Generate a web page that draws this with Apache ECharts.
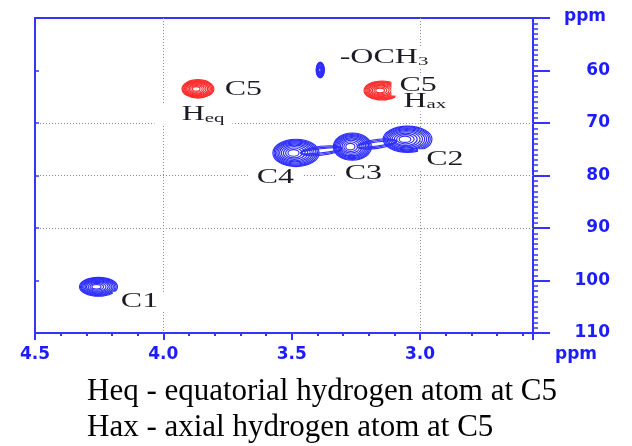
<!DOCTYPE html>
<html><head><meta charset="utf-8">
<script src="https://cdn.jsdelivr.net/npm/echarts@6/dist/echarts.min.js"></script>
<style>html,body{margin:0;padding:0;background:#fff}#c{width:632px;height:446px}</style>
</head><body><div id="c"></div>
<script>
// ---------------- data ----------------
const xTickLabels = ['4.5', '4.0', '3.5', '3.0'];
const yTickLabels = ['60', '70', '80', '90', '100', '110'];
const axisUnit = 'ppm';

// blue cross peaks (1H shift, 13C shift, half widths)
const bluePeakNames  = ['C1', 'C2', 'C3', 'C4', 'OCH3'];
const bluePeakH      = [4.263, 3.062, 3.274, 3.496, 3.391];
const bluePeakC      = [101.2, 73.1, 74.5, 75.7, 59.9];
const bluePeakWidthH = [0.074, 0.095, 0.074, 0.09, 0.016];
const bluePeakWidthC = [1.8, 2.5, 2.6, 2.6, 1.5];

// red cross peaks (C5 protons)
const redPeakNames  = ['C5 Heq', 'C5 Hax'];
const redPeakH      = [3.874, 3.158];
const redPeakC      = [63.5, 63.8];
const redPeakWidthH = [0.062, 0.07];
const redPeakWidthC = [1.75, 1.8];

// overlapping peaks joined by low contour levels
const mergedPairs = [['C4', 'C3'], ['C3', 'C2']];

const gridLinesH = [4.0, 3.0];
const gridLinesC = [70, 80, 90];

const peakLabelText = ['C1', 'C2', 'C3', 'C4', '-OCH{s|3}', 'C5', 'H{s|eq}', 'C5', 'H{s|ax}'];
const peakLabelOf   = ['C1', 'C2', 'C3', 'C4', 'OCH3', 'C5 Heq', 'C5 Heq', 'C5 Hax', 'C5 Hax'];

const captionLines = ['Heq - equatorial hydrogen atom at C5', 'Hax - axial hydrogen atom at C5'];

// ---------------- styling ----------------
const AX = '#3434fb', LAB = '#1c1cff', BLUE = '#2e2eff', RED = '#ff2d2d', TXT = '#1b1b24';
const RING_SCALES = [1, 0.94, 0.88, 0.81, 0.74, 0.66, 0.57, 0.47, 0.36, 0.24];
const RING_SHIFT = 0.14;
// label offsets in px from peak centre: [dx, dy, extra left pad]
const labelLayout = [[25, 15, 0], [22, 20, 0], [-5, 27, 0], [-36, 25, 0], [20, -12, 0], [29, 1, 0], [-14, 26, 12], [20, -5, 0], [24, 11, 0]];
const LABEL_SCALE = 1.6;

// ---------------- build ----------------
const allNames = bluePeakNames.concat(redPeakNames);
const allH = bluePeakH.concat(redPeakH);
const allC = bluePeakC.concat(redPeakC);
const idx = n => allNames.indexOf(n);

const blueData = bluePeakNames.map((n, i) => [bluePeakH[i], bluePeakC[i], bluePeakWidthH[i], bluePeakWidthC[i]]);
const redData = redPeakNames.map((n, i) => [redPeakH[i], redPeakC[i], redPeakWidthH[i], redPeakWidthC[i]]);
const bridgeData = mergedPairs.map(p => [allH[idx(p[0])], allC[idx(p[0])], allH[idx(p[1])], allC[idx(p[1])]]);
const labelData = peakLabelText.map((t, i) => [allH[idx(peakLabelOf[i])], allC[idx(peakLabelOf[i])], i]);

function peakRender(color) {
  return function (params, api) {
    const c = api.coord([api.value(0), api.value(1)]);
    const s = api.size([api.value(2), api.value(3)]);
    return {
      type: 'group',
      children: RING_SCALES.map(k => ({
        type: 'ellipse',
        shape: { cx: c[0] + k * RING_SHIFT * s[0], cy: c[1], rx: k * s[0], ry: k * s[1] },
        style: { fill: null, stroke: color, lineWidth: 1.15 }
      }))
    };
  };
}

function bridgeRender(params, api) {
  const a = api.coord([api.value(0), api.value(1)]);
  const b = api.coord([api.value(2), api.value(3)]);
  const mx = (a[0] + b[0]) / 2, my = (a[1] + b[1]) / 2 + 1;
  const len = Math.hypot(b[0] - a[0], b[1] - a[1]);
  const rot = -Math.atan2(b[1] - a[1], b[0] - a[0]);
  return {
    type: 'group', x: mx, y: my, rotation: rot,
    children: [4.5, 3.2, 2].map(ry => ({
      type: 'ellipse', shape: { cx: 0, cy: 0, rx: len * 0.36, ry: ry },
      style: { fill: null, stroke: BLUE, lineWidth: 1.1 }
    }))
  };
}

function labelRender(params, api) {
  const p = api.coord([api.value(0), api.value(1)]);
  const i = api.value(2);
  const L = labelLayout[i];
  const padL = 5 + L[2];
  return {
    type: 'text', z2: 10,
    x: p[0] + L[0] - padL * LABEL_SCALE, y: p[1] + L[1], scaleX: LABEL_SCALE,
    style: {
      text: peakLabelText[i], fill: TXT, font: '20px "Liberation Serif"',
      align: 'left', verticalAlign: 'middle', backgroundColor: '#fff', padding: [0, 5, 0, padL],
      rich: { s: { fontSize: 13, fontFamily: 'Liberation Serif', lineHeight: 8, verticalAlign: 'bottom', fill: TXT } }
    }
  };
}

const labelFont = { color: LAB, fontFamily: 'DejaVu Sans', fontWeight: 'bold', fontSize: 17 };
const axLine = { show: true, onZero: false, lineStyle: { color: AX, width: 2 } };

const chart = echarts.init(document.getElementById('c'), null, { renderer: 'canvas' });
chart.setOption({
  animation: false,
  backgroundColor: '#fff',
  title: {
    text: captionLines.join('\n'), left: 87, top: 374, padding: 0,
    textStyle: { fontFamily: 'Liberation Serif', fontSize: 31, fontWeight: 'normal', color: '#000', lineHeight: 36 }
  },
  grid: { left: 35, right: 99, top: 18, bottom: 113, containLabel: false, outerBoundsMode: 'none' },
  xAxis: [
    {
      type: 'value', min: 2.56, max: 4.5, inverse: true, splitNumber: 4, position: 'bottom',
      axisLine: axLine,
      axisTick: { show: true, length: 7, lineStyle: { color: AX, width: 2 } },
      minorTick: { show: true, splitNumber: 5, length: 3, lineStyle: { color: AX, width: 2 } },
      axisLabel: Object.assign({ margin: 13, formatter: v => { const t = v.toFixed(1); return (Math.abs(v * 2 - Math.round(v * 2)) < 1e-6 && xTickLabels.includes(t)) ? t : ''; } }, labelFont),
      splitLine: { show: false },
      name: axisUnit, nameLocation: 'start', nameGap: 22,
      nameTextStyle: Object.assign({ align: 'left', verticalAlign: 'top', padding: [13, 0, 0, 0] }, labelFont)
    },
    {
      type: 'value', min: 2.56, max: 4.5, inverse: true, position: 'top',
      axisLine: axLine, axisTick: { show: false }, axisLabel: { show: false }, splitLine: { show: false }
    }
  ],
  yAxis: [
    {
      type: 'value', min: 50, max: 110, interval: 10, inverse: true, position: 'right',
      axisLine: axLine,
      axisTick: { show: true, length: 17, lineStyle: { color: AX, width: 2 } },
      minorTick: { show: true, splitNumber: 10, length: 5, lineStyle: { color: AX, width: 1.5 } },
      axisLabel: Object.assign({ align: 'right', margin: 77, formatter: v => yTickLabels.includes(String(v)) ? String(v) : '' }, labelFont),
      splitLine: { show: false },
      name: axisUnit, nameLocation: 'start', nameGap: 1,
      nameTextStyle: Object.assign({ align: 'left', verticalAlign: 'middle', padding: [0, 0, 0, 31] }, labelFont)
    },
    {
      type: 'value', min: 50, max: 110, interval: 10, inverse: true, position: 'left',
      axisLine: axLine,
      axisTick: { show: true, inside: true, length: 4, lineStyle: { color: AX, width: 1.5 } },
      axisLabel: { show: false }, splitLine: { show: false }
    }
  ],
  series: [
    {
      type: 'line', data: [], z: 1, silent: true,
      markLine: {
        silent: true, symbol: 'none', label: { show: false },
        lineStyle: { color: '#8a8a8a', type: [1, 2], width: 1 },
        data: gridLinesH.map(v => ({ xAxis: v })).concat(gridLinesC.map(v => ({ yAxis: v })))
      }
    },
    { name: 'bridges', type: 'custom', z: 2, silent: true, renderItem: bridgeRender, encode: { x: [0, 2], y: [1, 3] }, data: bridgeData },
    { name: 'blue peaks', type: 'custom', z: 3, silent: true, renderItem: peakRender(BLUE), encode: { x: 0, y: 1 }, data: blueData },
    { name: 'red peaks', type: 'custom', z: 3, silent: true, renderItem: peakRender(RED), encode: { x: 0, y: 1 }, data: redData },
    { name: 'labels', type: 'custom', z: 5, silent: true, renderItem: labelRender, encode: { x: 0, y: 1 }, data: labelData }
  ]
});
</script></body></html>
